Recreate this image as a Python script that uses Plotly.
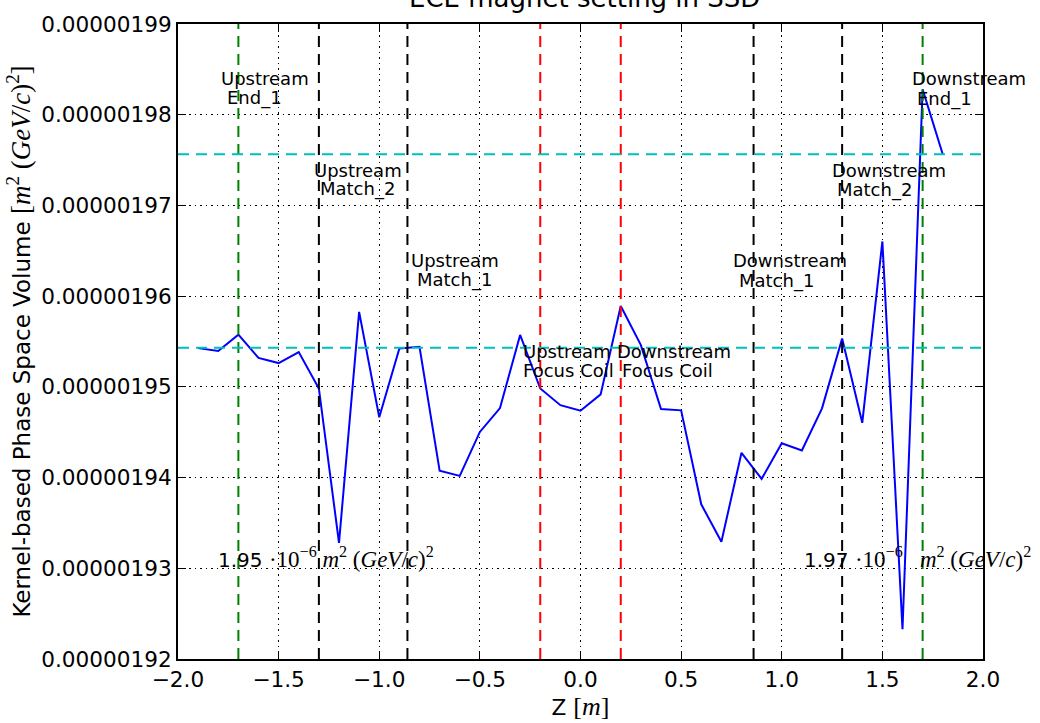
import plotly.graph_objects as go

# ---------------- data ----------------
z = [-1.9, -1.8, -1.7, -1.6, -1.5, -1.4, -1.3, -1.2, -1.1, -1.0,
     -0.9, -0.8, -0.7, -0.6, -0.5, -0.4, -0.3, -0.2, -0.1, 0.0,
     0.1, 0.2, 0.3, 0.4, 0.5, 0.6, 0.7, 0.8, 0.9, 1.0,
     1.1, 1.2, 1.3, 1.4, 1.5, 1.6, 1.7, 1.8]
volume_e6 = [1.95427, 1.95395, 1.95575, 1.95319, 1.95262, 1.95384, 1.94982, 1.93280, 1.95826, 1.94665,
             1.95424, 1.95442, 1.94075, 1.94018, 1.94503, 1.94766, 1.95572, 1.94982, 1.94798, 1.94737,
             1.94917, 1.95891, 1.95460, 1.94755, 1.94741, 1.93705, 1.93292, 1.94273, 1.93986, 1.94378,
             1.94299, 1.94763, 1.95532, 1.94604, 1.96603, 1.92328, 1.98279, 1.97564]
volume = [v * 1e-6 for v in volume_e6]

# element positions (z) and their colours
element_z = [-1.7, -1.3, -0.86, -0.2, 0.2, 0.86, 1.3, 1.7]
element_color = ["#008000", "#000000", "#000000", "#FF0000", "#FF0000", "#000000", "#000000", "#008000"]

# reference levels (upstream / downstream values)
ref_levels_e6 = [1.95432, 1.97564]
ref_labels = ["1.95", "1.97"]

x_ticks = [-2.0, -1.5, -1.0, -0.5, 0.0, 0.5, 1.0, 1.5, 2.0]
x_ticktext = ["\u22122.0", "\u22121.5", "\u22121.0", "\u22120.5", "0.0", "0.5", "1.0", "1.5", "2.0"]
y_ticks_e6 = [1.92, 1.93, 1.94, 1.95, 1.96, 1.97, 1.98, 1.99]
y_ticktext = ["0.00000192", "0.00000193", "0.00000194", "0.00000195",
              "0.00000196", "0.00000197", "0.00000198", "0.00000199"]

# element label lines: (text, x centre, y centre in 1e-6 units)
label_lines = [
    ("Upstream", -1.567, 1.98305), ("End_1", -1.621, 1.98090),
    ("Upstream", -1.104, 1.97291), ("Match_2", -1.106, 1.97086),
    ("Upstream", -0.625, 1.96299), ("Match_1", -0.625, 1.96083),
    ("Upstream", -0.066, 1.95296), ("Focus Coil", -0.059, 1.95080),
    ("Downstream", 0.463, 1.95296), ("Focus Coil", 0.433, 1.95080),
    ("Downstream", 1.042, 1.96299), ("Match_1", 0.975, 1.96072),
    ("Downstream", 1.531, 1.97291), ("Match_2", 1.462, 1.97076),
    ("Downstream", 1.931, 1.98305), ("End_1", 1.810, 1.98079),
]

# ---------------- figure ----------------
SANS = "DejaVu Sans"
MATH = "font-family:Liberation Serif;font-size:{}px"

fig = go.Figure()
fig.add_trace(go.Scatter(x=z, y=volume, mode="lines",
                         line=dict(color="#0000FF", width=2), showlegend=False,
                         hoverinfo="skip"))

shapes = []
for zz, col in zip(element_z, element_color):
    shapes.append(dict(type="line", xref="x", yref="paper", x0=zz, x1=zz, y0=0, y1=1,
                       line=dict(color=col, width=2, dash="11px,7px"), layer="above"))
for lv in ref_levels_e6:
    shapes.append(dict(type="line", xref="paper", yref="y", x0=0, x1=1, y0=lv * 1e-6, y1=lv * 1e-6,
                       line=dict(color="#00BFBF", width=2, dash="11px,7px"), layer="above"))

annotations = []
for txt, xx, yy in label_lines:
    annotations.append(dict(x=xx, y=yy * 1e-6, xref="x", yref="y", text=txt, showarrow=False,
                            xanchor="center", yanchor="middle", yshift=9,
                            font=dict(family=SANS, size=18, color="black")))

math_unit = ('<span style="' + MATH.format(23) + '">\u00b710<sup>\u22126</sup>{gap}<i>m</i><sup>2</sup> '
             '(<i>GeV</i>/<i>c</i>)<sup>2</sup></span>')
annotations.append(dict(x=-1.81, y=1.93e-6, xref="x", yref="y",
                        text=ref_labels[0] + " " + math_unit.format(gap=" "),
                        showarrow=False, xanchor="left", yanchor="bottom", yshift=-6,
                        font=dict(family=SANS, size=20, color="black")))
annotations.append(dict(x=1.10, y=1.93e-6, xref="x", yref="y",
                        text=ref_labels[1] + " " + math_unit.format(gap="\u00a0\u00a0\u00a0"),
                        showarrow=False, xanchor="left", yanchor="bottom", yshift=-6,
                        font=dict(family=SANS, size=20, color="black")))

# title (partly cut off at the top, as in the original)
annotations.append(dict(x=0.505, y=1, xref="paper", yref="paper", text="ECE magnet setting in SSD",
                        showarrow=False, xanchor="center", yanchor="bottom", yshift=9,
                        font=dict(family=SANS, size=26, color="black")))

fig.update_layout(
    width=1040, height=723,
    margin=dict(l=178, r=57, t=13, b=62),
    paper_bgcolor="white", plot_bgcolor="white",
    shapes=shapes, annotations=annotations,
    font=dict(family=SANS, color="black"),
    showlegend=False,
)
fig.update_xaxes(range=[-2, 2], tickvals=x_ticks, ticktext=x_ticktext,
                 showline=True, linecolor="black", linewidth=2, mirror="allticks",
                 ticks="inside", ticklen=8, tickcolor="black", tickwidth=1,
                 showgrid=True, gridcolor="black", gridwidth=1, griddash="1.5px,4px",
                 zeroline=False, tickfont=dict(family=SANS, size=21.6, color="black"),
                 title=dict(text='Z <span style="' + MATH.format(26) + '">[<i>m</i>]</span>',
                            font=dict(family=SANS, size=21.6, color="black"), standoff=4))
fig.update_yaxes(range=[1.92e-6, 1.99e-6], tickvals=[v * 1e-6 for v in y_ticks_e6], ticktext=y_ticktext,
                 showline=True, linecolor="black", linewidth=2, mirror="allticks",
                 ticks="inside", ticklen=8, tickcolor="black", tickwidth=1,
                 showgrid=True, gridcolor="black", gridwidth=1, griddash="1.5px,4px",
                 zeroline=False, tickfont=dict(family=SANS, size=21.6, color="black"),
                 title=dict(text='Kernel-based Phase Space Volume <span style="' + MATH.format(27) +
                            '">[<i>m</i><sup>2</sup> (<i>GeV</i>/<i>c</i>)<sup>2</sup>]</span>',
                            font=dict(family=SANS, size=23, color="black"), standoff=4))

fig.write_html("out.html")
